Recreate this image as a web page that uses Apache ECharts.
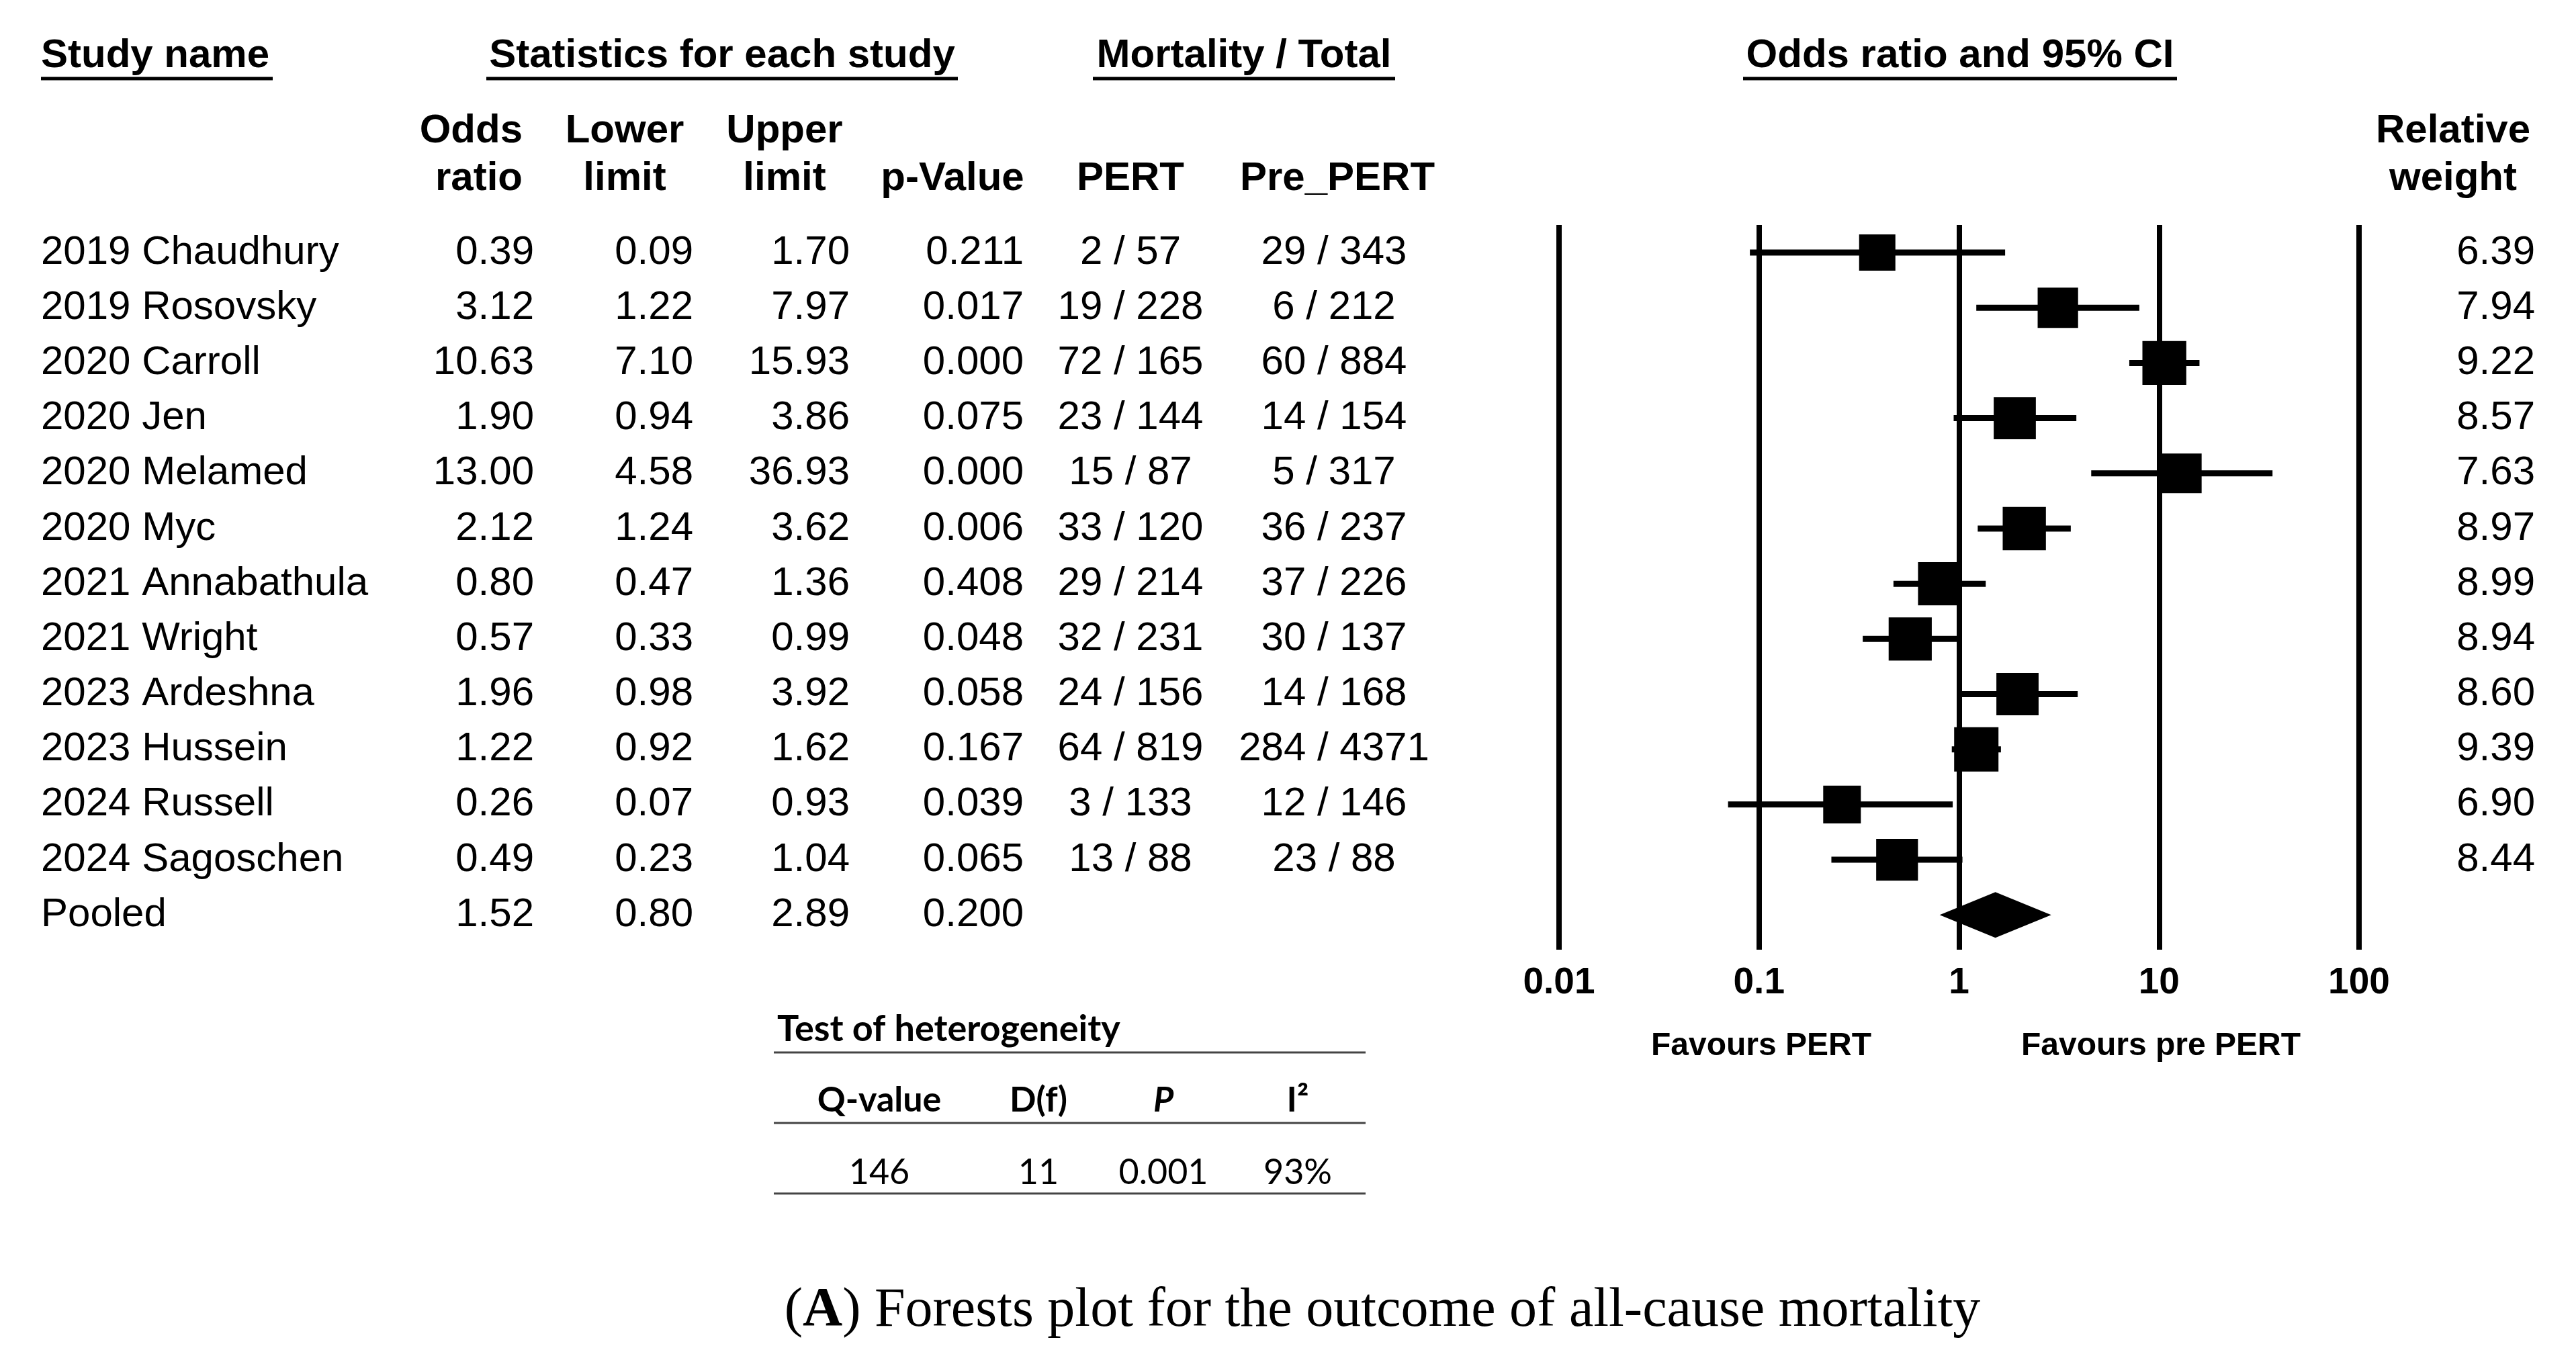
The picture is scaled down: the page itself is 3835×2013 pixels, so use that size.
<!DOCTYPE html>
<html>
<head>
<meta charset="utf-8">
<script src="https://cdn.jsdelivr.net/npm/echarts@6/dist/echarts.min.js"></script>
<style>
html, body { margin: 0; background: #fff; }
#chart { width: 3835px; height: 2013px; }
</style>
</head>
<body>
<div id="chart"></div>
<script>
// study rows, top to bottom
var studies = ['2019 Chaudhury', '2019 Rosovsky', '2020 Carroll', '2020 Jen', '2020 Melamed', '2020 Myc',
    '2021 Annabathula', '2021 Wright', '2023 Ardeshna', '2023 Hussein', '2024 Russell', '2024 Sagoschen'];
var oddsRatio = [0.39, 3.12, 10.63, 1.90, 13.00, 2.12, 0.80, 0.57, 1.96, 1.22, 0.26, 0.49];
var lowerLimit = [0.09, 1.22, 7.10, 0.94, 4.58, 1.24, 0.47, 0.33, 0.98, 0.92, 0.07, 0.23];
var upperLimit = [1.70, 7.97, 15.93, 3.86, 36.93, 3.62, 1.36, 0.99, 3.92, 1.62, 0.93, 1.04];
var pValues = ['0.211', '0.017', '0.000', '0.075', '0.000', '0.006', '0.408', '0.048', '0.058', '0.167', '0.039', '0.065'];
var pertCounts = ['2 / 57', '19 / 228', '72 / 165', '23 / 144', '15 / 87', '33 / 120', '29 / 214', '32 / 231',
    '24 / 156', '64 / 819', '3 / 133', '13 / 88'];
var prePertCounts = ['29 / 343', '6 / 212', '60 / 884', '14 / 154', '5 / 317', '36 / 237', '37 / 226', '30 / 137',
    '14 / 168', '284 / 4371', '12 / 146', '23 / 88'];
var weights = [6.39, 7.94, 9.22, 8.57, 7.63, 8.97, 8.99, 8.94, 8.60, 9.39, 6.90, 8.44];

// pooled estimate: odds ratio, lower, upper
var pooledName = 'Pooled';
var pooledEstimate = [1.52, 0.80, 2.89];
var pooledP = '0.200';

var tickLabels = ['0.01', '0.1', '1', '10', '100'];

// heterogeneity
var hetHeaders = ['Q-value', 'D(f)', 'P', 'I²'];
var hetValues = ['146', '11', '0.001', '93%'];

var SANS = 'Liberation Sans, Arial, sans-serif';
var CAL = 'Lato, Open Sans, sans-serif';
var nRows = studies.length;

// rows for the left table + right weight column
var tableRows = studies.map(function (s, i) {
    return [1, i];
});
tableRows.push([1, nRows]);

function rowTexts(i) {
    var pooled = i === nRows;
    var cells = [];
    function t(x, str, align) {
        cells.push({ x: x, str: str, align: align });
    }
    t(61, pooled ? pooledName : studies[i], 'left');
    t(795, (pooled ? pooledEstimate[0] : oddsRatio[i]).toFixed(2), 'right');
    t(1032, (pooled ? pooledEstimate[1] : lowerLimit[i]).toFixed(2), 'right');
    t(1265, (pooled ? pooledEstimate[2] : upperLimit[i]).toFixed(2), 'right');
    t(1524, pooled ? pooledP : pValues[i], 'right');
    if (!pooled) {
        t(1683, pertCounts[i], 'center');
        t(1986, prePertCounts[i], 'center');
        t(3774, weights[i].toFixed(2), 'right');
    }
    return cells;
}

var chart = echarts.init(document.getElementById('chart'));

function headerText(x, y, str, align, extra) {
    var st = {
        text: str, fill: '#000', align: align || 'center', verticalAlign: 'middle',
        fontFamily: SANS, fontSize: 60, fontWeight: 'bold'
    };
    if (extra) for (var k in extra) st[k] = extra[k];
    return { type: 'text', x: x, y: y, style: st };
}
function hline(x1, x2, y, w, color) {
    return { type: 'line', shape: { x1: x1, y1: y, x2: x2, y2: y }, style: { stroke: color || '#000', lineWidth: w } };
}

var graphics = [
    headerText(61, 83, 'Study name', 'left'),
    hline(61, 406, 117, 5),
    headerText(1075, 83, 'Statistics for each study'),
    hline(724, 1426, 117, 5),
    headerText(1852, 83, 'Mortality / Total'),
    hline(1627, 2077, 117, 5),
    headerText(2918, 83, 'Odds ratio and 95% CI'),
    hline(2595, 3241, 117, 5),

    headerText(778, 195, 'Odds', 'right'),
    headerText(778, 266, 'ratio', 'right'),
    headerText(930, 195, 'Lower'),
    headerText(930, 266, 'limit'),
    headerText(1168, 195, 'Upper'),
    headerText(1168, 266, 'limit'),
    headerText(1418, 266, 'p-Value'),
    headerText(1683, 266, 'PERT'),
    headerText(1991, 266, 'Pre_PERT'),
    headerText(3652, 195, 'Relative'),
    headerText(3652, 266, 'weight'),

    headerText(2622, 1558, 'Favours PERT', 'center', { fontSize: 48 }),
    headerText(3217, 1558, 'Favours pre PERT', 'center', { fontSize: 48 }),

    // heterogeneity table
    { type: 'text', x: 1157, y: 1533, style: { text: 'Test of heterogeneity', fill: '#000', align: 'left', verticalAlign: 'middle',
        fontFamily: CAL, fontSize: 54, fontWeight: 'bold' } },
    hline(1152, 2033, 1567, 3, '#444'),
    hline(1152, 2033, 1672, 3, '#444'),
    hline(1152, 2033, 1777, 3, '#444'),

    // caption
    { type: 'text', x: 2058, y: 1952, style: {
        text: '({a|A}) Forests plot for the outcome of all-cause mortality',
        fill: '#000', align: 'center', verticalAlign: 'middle',
        fontFamily: 'Liberation Serif, Times New Roman, serif', fontSize: 82,
        rich: { a: { fontFamily: 'Liberation Serif, Times New Roman, serif', fontSize: 82, fontWeight: 'bold', fill: '#000' } }
    } }
];

var hetX = [1309, 1546, 1732, 1932];
hetHeaders.forEach(function (h, k) {
    graphics.push({ type: 'text', x: hetX[k], y: 1638, style: {
        text: h, fill: '#000', align: 'center', verticalAlign: 'middle',
        fontFamily: CAL, fontSize: 52, fontWeight: 'bold', fontStyle: h === 'P' ? 'italic' : 'normal'
    } });
    graphics.push({ type: 'text', x: hetX[k], y: 1746, style: {
        text: hetValues[k], fill: '#000', align: 'center', verticalAlign: 'middle',
        fontFamily: CAL, fontSize: 52
    } });
});

var option = {
    backgroundColor: '#fff',
    animation: false,
    grid: { left: 2321, right: 323, top: 335, height: 1079 },
    xAxis: {
        type: 'log',
        logBase: 10,
        min: 0.01,
        max: 100,
        axisLine: { show: false },
        axisTick: { show: false },
        splitLine: { show: true, lineStyle: { color: '#000', width: 8 } },
        axisLabel: {
            color: '#000', fontFamily: SANS, fontWeight: 'bold', fontSize: 55, margin: 22,
            formatter: function (v) {
                return tickLabels[Math.round(Math.log10(v)) + 2];
            }
        }
    },
    yAxis: {
        type: 'value',
        inverse: true,
        min: -0.50,
        max: 12.63,
        show: false
    },
    graphic: graphics,
    series: [
        {
            // confidence intervals
            type: 'custom',
            data: studies.map(function (s, i) { return [lowerLimit[i], upperLimit[i], i]; }),
            encode: { x: [0, 1], y: 2 },
            renderItem: function (params, api) {
                var p1 = api.coord([api.value(0), api.value(2)]);
                var p2 = api.coord([api.value(1), api.value(2)]);
                return { type: 'line', shape: { x1: p1[0], y1: p1[1], x2: p2[0], y2: p2[1] },
                    style: { stroke: '#000', lineWidth: 9 } };
            },
            z: 3
        },
        {
            // study estimates, box size by weight
            type: 'scatter',
            symbol: 'rect',
            data: studies.map(function (s, i) { return [oddsRatio[i], i, weights[i]]; }),
            symbolSize: function (val) { return 54 + (val[2] - 6.39) * 4; },
            itemStyle: { color: '#000', opacity: 1 },
            z: 4
        },
        {
            // pooled diamond
            type: 'custom',
            data: [[pooledEstimate[0], pooledEstimate[1], pooledEstimate[2], nRows]],
            encode: { x: [1, 2], y: 3 },
            renderItem: function (params, api) {
                var r = api.value(3);
                var c = api.coord([api.value(0), r]);
                var l = api.coord([api.value(1), r]);
                var u = api.coord([api.value(2), r]);
                var h = 34;
                return { type: 'polygon',
                    shape: { points: [[l[0], c[1]], [c[0], c[1] - h], [u[0], c[1]], [c[0], c[1] + h]] },
                    style: { fill: '#000' } };
            },
            z: 4
        },
        {
            // table text aligned to the plot rows
            type: 'custom',
            data: tableRows,
            encode: { x: 0, y: 1 },
            clip: false,
            renderItem: function (params, api) {
                var y = api.coord([1, api.value(1)])[1];
                var cells = rowTexts(params.dataIndex);
                return {
                    type: 'group',
                    children: cells.map(function (c) {
                        return { type: 'text', x: c.x, y: y, style: {
                            text: c.str, fill: '#000', align: c.align, verticalAlign: 'middle',
                            fontFamily: SANS, fontSize: 60
                        } };
                    })
                };
            },
            z: 5
        }
    ]
};

chart.setOption(option);
</script>
</body>
</html>
